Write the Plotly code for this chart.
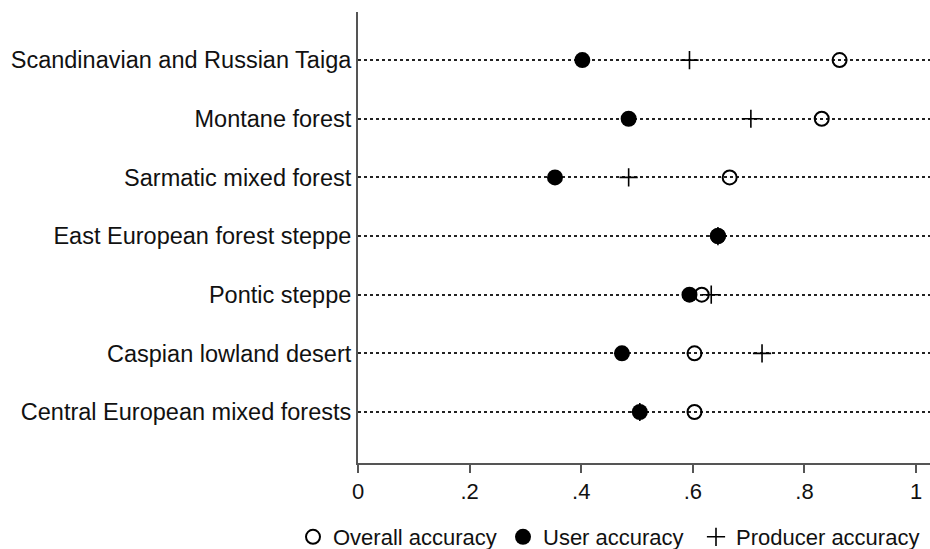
import plotly.graph_objects as go

categories = [
    "Scandinavian and Russian Taiga",
    "Montane forest",
    "Sarmatic mixed forest",
    "East European forest steppe",
    "Pontic steppe",
    "Caspian lowland desert",
    "Central European mixed forests",
]
overall_accuracy = [0.863, 0.831, 0.666, 0.645, 0.616, 0.603, 0.603]
user_accuracy = [0.402, 0.485, 0.353, 0.645, 0.594, 0.473, 0.505]
producer_accuracy = [0.594, 0.704, 0.485, 0.645, 0.633, 0.724, 0.505]
tick_vals = [0, 0.2, 0.4, 0.6, 0.8, 1]
tick_text = ["0", ".2", ".4", ".6", ".8", "1"]

n = len(categories)
ypos = [n - 1 - i for i in range(n)]

FONT = "Liberation Sans, Arial, sans-serif"

fig = go.Figure()
fig.add_trace(go.Scatter(
    x=overall_accuracy, y=ypos, mode="markers", name="Overall accuracy", legend="legend",
    marker=dict(symbol="circle-open", size=14, color="black", line=dict(width=2, color="black")),
))
fig.add_trace(go.Scatter(
    x=user_accuracy, y=ypos, mode="markers", name="User accuracy", legend="legend2",
    marker=dict(symbol="circle", size=16, color="black"),
))
fig.add_trace(go.Scatter(
    x=producer_accuracy, y=ypos, mode="markers", name="Producer accuracy", legend="legend3",
    marker=dict(symbol="cross-thin", size=13, color="black", line=dict(width=1.6, color="black")),
))

def leg(xpix):
    return dict(orientation="h", x=xpix / 930, xref="container", xanchor="left",
                y=1 - 537 / 549, yref="container", yanchor="middle",
                font=dict(size=22, family=FONT, color="#111"), itemwidth=30,
                itemclick=False, bgcolor="rgba(0,0,0,0)", borderwidth=0)

fig.update_layout(
    width=930, height=549,
    margin=dict(l=358, r=0, t=12, b=86, autoexpand=False),
    paper_bgcolor="white", plot_bgcolor="white",
    font=dict(family=FONT, size=22, color="#111"),
    showlegend=True,
    legend=leg(293), legend2=leg(503), legend3=leg(696),
    xaxis=dict(range=[0, 1.025], tickvals=tick_vals, ticktext=tick_text, automargin=False,
               showgrid=False, zeroline=False, showline=True, linecolor="#555", linewidth=2,
               ticks="outside", ticklen=8, tickwidth=2, tickcolor="#555",
               tickfont=dict(size=22, family=FONT)),
    yaxis=dict(range=[-0.87, 6.82], tickvals=ypos, ticktext=categories, automargin=False,
               showgrid=True, gridcolor="#222", griddash="dot", gridwidth=1.5,
               zeroline=False, showline=True, linecolor="#555", linewidth=2,
               ticks="", ticklabelstandoff=0, tickfont=dict(size=23.5, family=FONT)),
)
fig.write_html("out.html", config={"displayModeBar": False},
               post_script="document.body.style.margin='0';document.body.style.overflow='hidden';")
